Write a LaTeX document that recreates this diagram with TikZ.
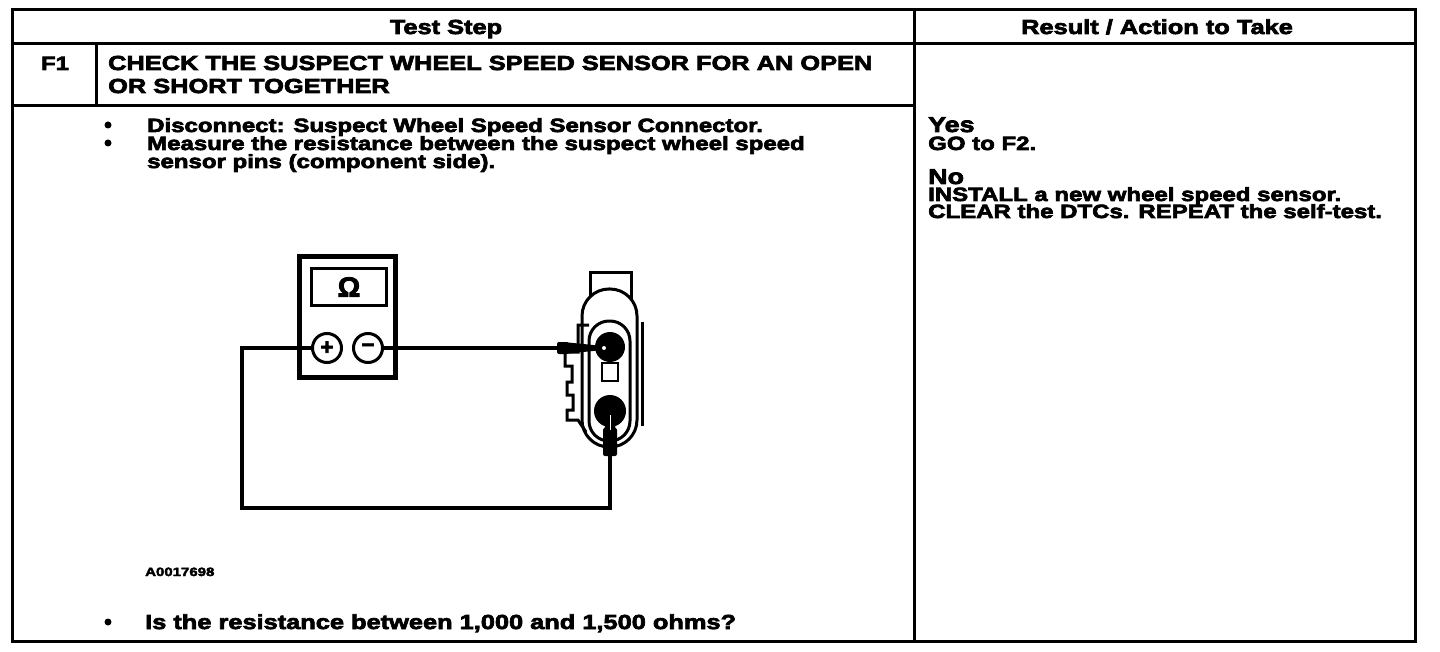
\documentclass[tikz,border=0pt]{standalone}
\usepackage{fontspec}
\setmainfont{Liberation Sans}[FakeStretch=1.25,FakeBold=3.5]
\newfontfamily\symfont{Liberation Sans}[FakeBold=3]
\newcommand\headfnt{\bfseries\fontsize{20.3}{22}\selectfont}
\newcommand\bodyfnt{\bfseries\fontsize{19.2}{18}\selectfont}
\newcommand\bigfnt{\bfseries\fontsize{21.5}{22}\selectfont}
\newcommand\tagfnt{\bfseries\fontsize{12}{12}\selectfont}

\begin{document}
\begin{tikzpicture}[x=1pt,y=-1pt,
  frame/.style={line width=3},
  txt/.style={anchor=base west,inner sep=0},
  wire/.style={line width=4},
  term/.style={circle,draw,line width=3,fill=white,minimum size=29,inner sep=0,
    font=\symfont\bfseries\fontsize{22}{22}\selectfont}]
\fill[white] (0,0) rectangle (1440,652);
\useasboundingbox (0,0) rectangle (1440,652);

\draw[frame] (12,10) rectangle (1415,641);
\draw[frame] (12,44) -- (1415,44);
\draw[frame] (914,10) -- (914,641);
\draw[frame] (96,44) -- (96,106);
\draw[frame] (12,106) -- (914,106);

\node[txt,anchor=base,font=\headfnt] (hdtest) at (446,34) {Test Step};
\node[txt,anchor=base,font=\headfnt] (hdres) at (1157,34) {Result / Action to Take};
\node[txt,anchor=base,font=\bodyfnt] (step) at (55,70) {F1};
\node[txt,font=\headfnt] (chk1) at (108,70) {CHECK THE SUSPECT WHEEL SPEED SENSOR FOR AN OPEN};
\node[txt,font=\headfnt] (chk2) at (108,93) {OR SHORT TOGETHER};
\node[txt,font=\bodyfnt] (dis) at (147,132) {Disconnect: Suspect Wheel Speed Sensor Connector.};
\node[txt,font=\bodyfnt] (mea1) at (147,150) {Measure the resistance between the suspect wheel speed};
\node[txt,font=\bodyfnt] (mea2) at (147,168) {sensor pins (component side).};
\node[txt,font=\tagfnt] (tag) at (145,576) {A0017698};
\node[txt,font=\headfnt] (ask) at (145,629) {Is the resistance between 1,000 and 1,500 ohms?};
\foreach \y in {125,143,622}
  \fill (108,\y) circle (3.5);

\node[txt,font=\bigfnt] (yes) at (928,132) {Yes};
\node[txt,font=\bodyfnt] (go) at (928,150) {GO to F2.};
\node[txt,font=\bigfnt] (no) at (928,184) {No};
\node[txt,font=\bodyfnt] (inst) at (928,201) {INSTALL a new wheel speed sensor.};
\node[txt,font=\bodyfnt] (clr) at (928,218) {CLEAR the DTCs. REPEAT the self-test.};

\begin{scope}[line width=3]
\draw[fill=white] (590,273) rectangle (631,300);
\draw[fill=white,rounded corners=27] (582,289) rectangle (637,447);
\draw[rounded corners=20] (589,321) rectangle (630,441);
\draw (642,322) -- (642,426);
\draw (589,325) -- (578,325) -- (578,352) -- (565,352) -- (565,366) -- (572,366)
  -- (572,382) -- (567,382) -- (567,395) -- (573,395) -- (573,410) -- (567,410)
  -- (567,420) -- (578,420) -- (586,432);
\end{scope}
\fill (610,347) circle (15);
\fill (610,411) circle (16);
\draw[line width=2.5,fill=white] (602,363) rectangle (618,381);

\fill[rounded corners=2] (557,342) rectangle (569,354);
\fill (568,342.5) -- (603,346) -- (603,350) -- (568,353.5) -- cycle;
\fill[white] (604,348) circle (2);
\fill[rounded corners=2] (603,428) rectangle (617,456);
\fill (604,430) -- (608.5,412) -- (611.5,412) -- (616,430) -- cycle;
\draw[white,line width=1] (610,415) -- (610,430);

\coordinate (tipA) at (558,348);
\coordinate (tipB) at (610,455);
\coordinate (bend) at (242,508);

\node[draw,line width=5,fill=white,minimum width=96,minimum height=120] (meter) at (347,317) {};
\node[draw,line width=3,minimum width=75,minimum height=37,
  font=\symfont\bfseries\fontsize{28}{28}\selectfont] (screen) at (349,287) {Ω};
\node[term] (plus) at (327,348) {+};
\node[term] (minus) at (368,348) {−};

\draw[wire] (minus.east) -- (tipA);
\draw[wire] (plus.west) -| (bend) -| (tipB);
\end{tikzpicture}
\end{document}
